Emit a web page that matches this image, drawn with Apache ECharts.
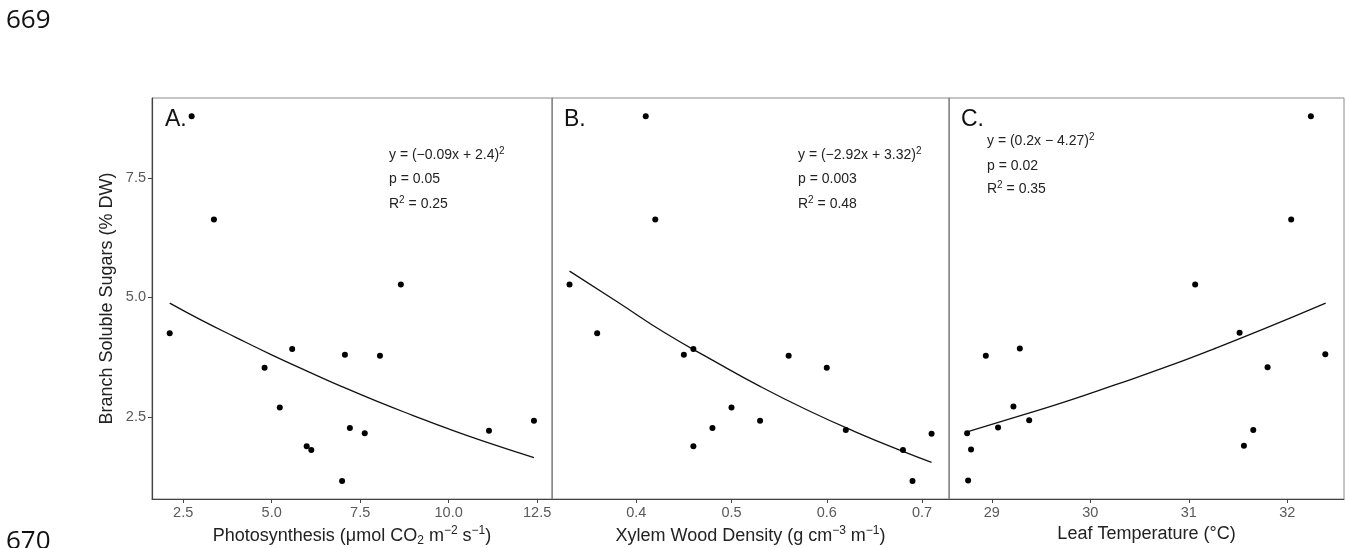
<!DOCTYPE html>
<html>
<head>
<meta charset="utf-8">
<script src="https://cdn.jsdelivr.net/npm/echarts@6/dist/echarts.min.js"></script>
<style>html,body{margin:0;padding:0;background:#fff}#c{width:1346px;height:548px}</style>
</head>
<body>
<div id="c"></div>
<script>
// ---- data ----
const photosynthesis = [2.74, 3.37, 8.65, 2.12, 5.58, 7.07, 8.06, 4.80, 5.23, 12.41, 7.21, 11.14, 7.63, 5.99, 6.12, 6.99];
const sugarsA        = [8.79, 6.63, 5.27, 4.25, 3.92, 3.80, 3.78, 3.53, 2.70, 2.42, 2.27, 2.21, 2.16, 1.89, 1.81, 1.16];
const woodDensity    = [0.410, 0.420, 0.330, 0.359, 0.460, 0.450, 0.560, 0.600, 0.500, 0.530, 0.480, 0.620, 0.710, 0.460, 0.680, 0.690];
const sugarsB        = [8.79, 6.63, 5.27, 4.25, 3.92, 3.80, 3.78, 3.53, 2.70, 2.42, 2.27, 2.23, 2.15, 1.89, 1.81, 1.16];
const leafTemp       = [32.24, 32.04, 31.065, 31.516, 29.285, 32.386, 28.94, 31.80, 29.22, 29.38, 29.064, 31.655, 28.75, 31.56, 28.79, 28.76];
const sugarsC        = [8.79, 6.63, 5.27, 4.26, 3.93, 3.81, 3.78, 3.54, 2.72, 2.43, 2.28, 2.23, 2.16, 1.90, 1.82, 1.17];

// fitted curves
const fitAx = [2.12, 3, 4, 5, 6, 7, 8, 9, 10, 11, 12.41];
const fitAy = [4.88, 4.53, 4.16, 3.80, 3.46, 3.13, 2.82, 2.53, 2.25, 1.99, 1.65];
const fitBx = [0.33, 0.38, 0.43, 0.48, 0.53, 0.58, 0.63, 0.68, 0.71];
const fitBy = [5.55, 4.91, 4.26, 3.69, 3.14, 2.64, 2.19, 1.78, 1.55];
const fitCx = [28.75, 29.25, 29.75, 30.25, 30.75, 31.25, 31.75, 32.39];
const fitCy = [2.19, 2.50, 2.82, 3.17, 3.53, 3.92, 4.33, 4.88];

// tick labels
const yTicks  = [2.5, 5.0, 7.5];
const xTicksA = [2.5, 5.0, 7.5, 10.0, 12.5];
const xTicksB = [0.4, 0.5, 0.6, 0.7];
const xTicksC = [29, 30, 31, 32];

const zip = (a, b) => a.map((v, i) => [v, b[i]]);

const FONT = '"Liberation Sans", Arial, sans-serif';
const rich = {
  n:   { fontFamily: FONT, fontSize: 18, color: '#222' },
  sup: { fontFamily: FONT, fontSize: 12, color: '#222', padding: [0, 0, 10, 0] },
  sub: { fontFamily: FONT, fontSize: 12, color: '#222', padding: [9, 0, 0, 0] }
};
const annRich = {
  n:   { fontFamily: FONT, fontSize: 14, color: '#222' },
  sup: { fontFamily: FONT, fontSize: 10, color: '#222', padding: [0, 0, 8, 0] }
};

const grids = [
  { left: 152, top: 98, width: 400, height: 401 },
  { left: 552, top: 98, width: 397, height: 401 },
  { left: 949, top: 98, width: 395, height: 401 }
].map(g => Object.assign(g, { show: true, borderColor: '#8a8a8a', borderWidth: 1,
                              containLabel: false, outerBoundsMode: 'none' }));

function xAxis(idx, min, max, ticks, fmt, name, gap) {
  return {
    type: 'value', gridIndex: idx, min: min, max: max,
    splitLine: { show: false },
    axisLine: { show: true, onZero: false, lineStyle: { color: '#444', width: 1.2 } },
    axisTick: { show: true, length: 4, lineStyle: { color: '#444' }, customValues: ticks },
    axisLabel: { show: true, color: '#595959', fontFamily: FONT, fontSize: 14.5, margin: 6,
                 customValues: ticks, formatter: fmt },
    name: name, nameLocation: 'middle', nameGap: gap,
    nameTextStyle: { rich: rich, fontFamily: FONT, fontSize: 18, color: '#222', verticalAlign: 'top' }
  };
}
function yAxis(idx, showLabels) {
  return {
    type: 'value', gridIndex: idx, min: 0.785, max: 9.17,
    splitLine: { show: false },
    axisLine: { show: true, onZero: false, lineStyle: { color: showLabels ? '#444' : '#8a8a8a', width: showLabels ? 1.2 : 1 } },
    axisTick: { show: showLabels, length: 4, lineStyle: { color: '#444' }, customValues: yTicks },
    axisLabel: { show: showLabels, color: '#595959', fontFamily: FONT, fontSize: 14.5, margin: 6,
                 customValues: yTicks, formatter: v => v.toFixed(1) },
    name: showLabels ? 'Branch Soluble Sugars (% DW)' : '',
    nameLocation: 'middle', nameGap: 36,
    nameTextStyle: { fontFamily: FONT, fontSize: 18, color: '#222' }
  };
}

function scatter(i, data) {
  return { type: 'scatter', xAxisIndex: i, yAxisIndex: i, data: data, symbolSize: 6,
           itemStyle: { color: '#000', opacity: 1 }, silent: true, z: 3 };
}
function fit(i, data) {
  return { type: 'line', xAxisIndex: i, yAxisIndex: i, data: data, smooth: true, showSymbol: false,
           lineStyle: { color: '#111', width: 1.3 }, silent: true, z: 2 };
}

function label(x, y, t) {
  return { type: 'text', x: x, y: y, style: { text: t, fontFamily: FONT, fontSize: 23, fill: '#111' } };
}
function ann(x, y, t) {
  return { type: 'text', x: x, y: y,
           style: { text: t, rich: annRich, fontFamily: FONT, fontSize: 14, fill: '#222', verticalAlign: 'middle' } };
}

const option = {
  animation: false,
  backgroundColor: '#fff',
  grid: grids,
  xAxis: [
    xAxis(0, 1.62, 12.92, xTicksA, v => v.toFixed(1),
      '{n|Photosynthesis (μmol CO}{sub|2}{n| m}{sup|−2}{n| s}{sup|−1}{n|)}', 23),
    xAxis(1, 0.3116, 0.7283, xTicksB, v => v.toFixed(1),
      '{n|Xylem Wood Density (g cm}{sup|−3}{n| m}{sup|−1}{n|)}', 22),
    xAxis(2, 28.566, 32.576, xTicksC, v => String(v),
      '{n|Leaf Temperature (°C)}', 19)
  ],
  yAxis: [yAxis(0, true), yAxis(1, false), yAxis(2, false)],
  series: [
    fit(0, zip(fitAx, fitAy)), scatter(0, zip(photosynthesis, sugarsA)),
    fit(1, zip(fitBx, fitBy)), scatter(1, zip(woodDensity, sugarsB)),
    fit(2, zip(fitCx, fitCy)), scatter(2, zip(leafTemp, sugarsC))
  ],
  graphic: [
    { type: 'text', x: 6, y: 8, style: { text: '669', fontFamily: '"Open Sans", sans-serif', fontSize: 26, fill: '#111' } },
    { type: 'text', x: 6, y: 529, style: { text: '670', fontFamily: '"Open Sans", sans-serif', fontSize: 26, fill: '#111' } },
    label(165, 108, 'A.'), label(564, 108, 'B.'), label(961, 108, 'C.'),
    ann(389, 155, '{n|y = (−0.09x + 2.4)}{sup|2}'),
    ann(389, 179, '{n|p = 0.05}'),
    ann(389, 204, '{n|R}{sup|2}{n| = 0.25}'),
    ann(798, 155, '{n|y = (−2.92x + 3.32)}{sup|2}'),
    ann(798, 179, '{n|p = 0.003}'),
    ann(798, 204, '{n|R}{sup|2}{n| = 0.48}'),
    ann(987, 141, '{n|y = (0.2x − 4.27)}{sup|2}'),
    ann(987, 166, '{n|p = 0.02}'),
    ann(987, 189, '{n|R}{sup|2}{n| = 0.35}')
  ]
};

const chart = echarts.init(document.getElementById('c'), null, { renderer: 'canvas' });
chart.setOption(option);
</script>
</body>
</html>
